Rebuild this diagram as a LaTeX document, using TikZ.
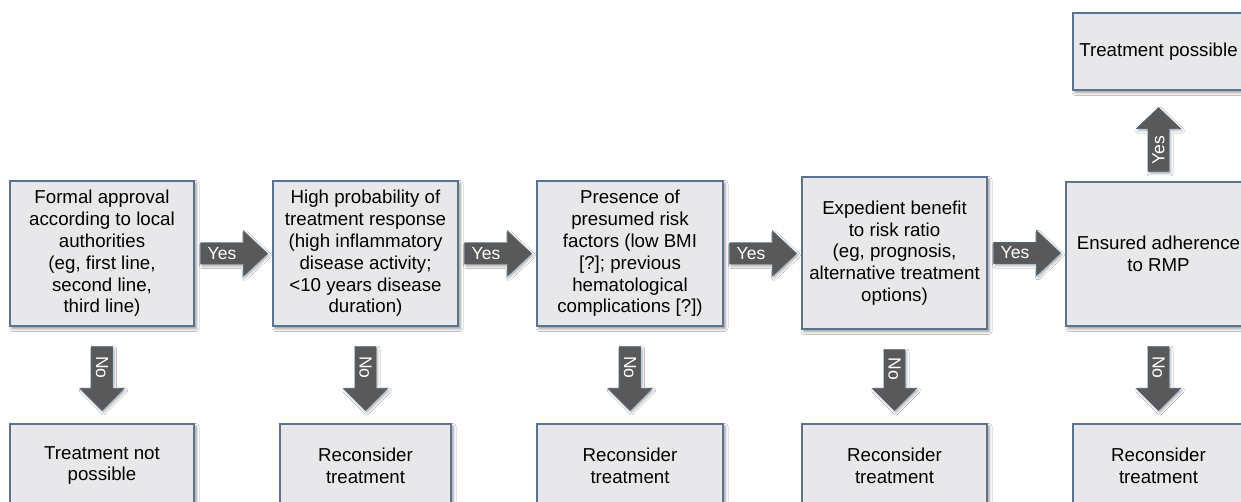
\documentclass[tikz,border=0pt]{standalone}
\usepackage{fontspec}
\setmainfont{Liberation Sans}
\usetikzlibrary{calc,shadows.blur}
\definecolor{boxfill}{HTML}{E8E8EA}
\definecolor{boxline}{HTML}{5A7390}
\definecolor{arrfill}{HTML}{595959}
\definecolor{arrline}{HTML}{4E6278}
\tikzset{
  box/.style={draw=boxline, line width=1.2pt, fill=boxfill, align=center, inner sep=0pt,
    font=\fontsize{18.7}{21.8}\selectfont,
    blur shadow={shadow xshift=2pt, shadow yshift=-2.5pt, shadow opacity=45, shadow blur radius=3pt}},
  bigarrow/.style={fill=arrfill, draw=arrline, line width=0.6pt,
    blur shadow={shadow xshift=1.5pt, shadow yshift=-2pt, shadow opacity=35, shadow blur radius=2.5pt}},
  arrlabel/.style={text=white, font=\fontsize{17.5}{20}\selectfont, inner sep=0pt}
}
\newcommand\yesarrow[2]{%
  \coordinate (S) at ($(#1.east)+(6,0)$);
  \coordinate (T) at ($(S -| #2.west)+(-5,0)$);
  \coordinate (H) at ($(T)+(-24,0)$);
  \draw[bigarrow] ($(S)+(0,-10.5)$) -- ($(H)+(0,-10.5)$) -- ($(H)+(0,-22.5)$) -- (T)
    -- ($(H)+(0,22.5)$) -- ($(H)+(0,10.5)$) -- ($(S)+(0,10.5)$) -- cycle;
  \node[arrlabel] at ($(S)!0.5!(H)$) {Yes};
}
\newcommand\noarrow[2]{%
  \coordinate (S) at ($(#1.south)+(0,20)$);
  \coordinate (T) at ($(S |- #2.north)+(0,-13)$);
  \coordinate (H) at ($(T)+(0,-22)$);
  \draw[bigarrow] ($(S)+(-10.5,0)$) -- ($(H)+(-10.5,0)$) -- ($(H)+(-22,0)$) -- (T)
    -- ($(H)+(22,0)$) -- ($(H)+(10.5,0)$) -- ($(S)+(10.5,0)$) -- cycle;
  \node[arrlabel, rotate=-90] at ($(S)!0.5!(H)$) {No};
}
\begin{document}
\begin{tikzpicture}[x=1pt, y=-1pt]
\useasboundingbox[fill=white] (0,0) rectangle (1241,502);

% main row
\node[box, minimum width=184pt, minimum height=145pt] (b1) at (102,253.5)
  {Formal approval\\according to local\\authorities\\(eg, first line,\\second line,\\third line)};
\node[box, minimum width=185pt, minimum height=145pt] (b2) at (365.5,253.5)
  {High probability of\\treatment response\\(high inflammatory\\disease activity;\\<10 years disease\\duration)};
\node[box, minimum width=186pt, minimum height=145pt] (b3) at (630,253.5)
  {Presence of\\presumed risk\\factors (low BMI\\{[?]}; previous\\hematological\\complications [?])};
\node[box, minimum width=185pt, minimum height=152pt] (b4) at (894.5,253)
  {Expedient benefit\\to risk ratio\\(eg, prognosis,\\alternative treatment\\options)};
\node[box, minimum width=185pt, minimum height=144pt] (b5) at (1158.5,254)
  {Ensured adherence\\to RMP};

% top
\node[box, minimum width=171pt, minimum height=77pt] (t) at (1158.5,51.5)
  {Treatment possible};

% bottom row
\node[box, minimum width=184pt, minimum height=83pt] (r1) at (102,465.5)
  {Treatment not\\possible};
\node[box, minimum width=171pt, minimum height=83pt] (r2) at (365.5,465.5)
  {Reconsider\\treatment};
\node[box, minimum width=186pt, minimum height=83pt] (r3) at (630,465.5)
  {Reconsider\\treatment};
\node[box, minimum width=185pt, minimum height=83pt] (r4) at (894.5,465.5)
  {Reconsider\\treatment};
\node[box, minimum width=171pt, minimum height=83pt] (r5) at (1158.5,465.5)
  {Reconsider\\treatment};

% yes arrows
\yesarrow{b1}{b2}
\yesarrow{b2}{b3}
\yesarrow{b3}{b4}
\yesarrow{b4}{b5}

% no arrows
\noarrow{b1}{r1}
\noarrow{b2}{r2}
\noarrow{b3}{r3}
\noarrow{b4}{r4}
\noarrow{b5}{r5}

% up arrow
\coordinate (US) at ($(b5.north)+(0,-10)$);
\coordinate (UT) at ($(US |- t.south)+(0,17)$);
\coordinate (UH) at ($(UT)+(0,21)$);
\draw[bigarrow] ($(US)+(-10.5,0)$) -- ($(UH)+(-10.5,0)$) -- ($(UH)+(-22,0)$) -- (UT)
  -- ($(UH)+(22,0)$) -- ($(UH)+(10.5,0)$) -- ($(US)+(10.5,0)$) -- cycle;
\node[arrlabel, rotate=90] at ($(US)!0.5!(UH)$) {Yes};
\end{tikzpicture}
\end{document}
